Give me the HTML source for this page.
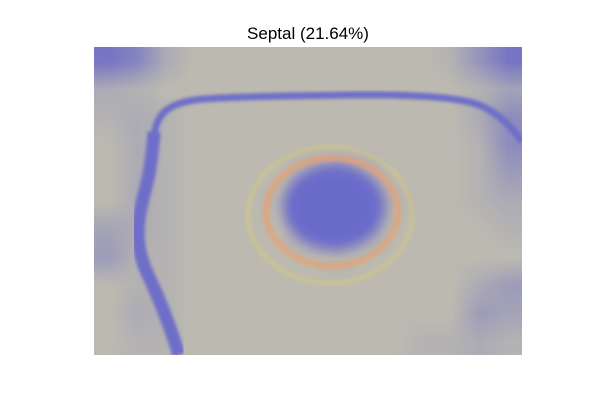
<!DOCTYPE html>
<html><head><meta charset="utf-8">
<style>
body{margin:0;background:#fff;}
#wrap{position:relative;width:600px;height:400px;overflow:hidden;font-family:"Liberation Sans",sans-serif;}
#title{position:absolute;top:24px;left:0;width:616px;text-align:center;font-size:17px;color:#000;}
#cv{position:absolute;left:94px;top:47px;}
#ov{position:absolute;left:94px;top:47px;}
</style></head>
<body>
<div id="wrap">
<div id="title">Septal (21.64%)</div>
<canvas id="cv" width="428" height="308"></canvas>
<svg id="ov" width="428" height="308">
<defs><filter id="bl"><feGaussianBlur stdDeviation="1.5"/></filter><filter id="bl2"><feGaussianBlur stdDeviation="6"/></filter></defs>
<path d="M60,95 C60,70 70,55 110,52 C150,49 200,49 250,48 C320,47 365,50 385,58 C405,66 418,80 428,95" fill="none" stroke="#6e6ec8" stroke-width="7" filter="url(#bl)"/>
<path d="M60,85 C58,110 56,125 52,140 C44,170 38,195 55,230 C68,258 78,285 85,308" fill="none" stroke="#6e6ec8" stroke-width="13" filter="url(#bl)"/>
<ellipse cx="240" cy="160" rx="50" ry="42" fill="#6a6acb" filter="url(#bl2)"/>
<ellipse cx="238" cy="165" rx="66" ry="54" fill="none" stroke="#e8a070" stroke-width="7" opacity="0.65" filter="url(#bl)"/>
<ellipse cx="236" cy="168" rx="82" ry="68" fill="none" stroke="#e0d070" stroke-width="5" opacity="0.35" filter="url(#bl)"/>
</svg>
</div>
<script>
var blueRows = [
[0.9,0.7,0.2,0,0,0,0,0,0,0,0,0,0.1,0.5,0.9],
[0.2,0.1,0,0,0,0,0,0,0,0,0,0,0,0.1,0.3],
[0.1,0.2,0.1,0,0,0,0,0,0,0,0,0,0,0.2,0.6],
[0,0.2,0.1,0,0,0,0,0,0,0,0,0,0,0.1,0.6],
[0,0.2,0.1,0,0,0,0,0.2,0.4,0.2,0,0,0,0.1,0.4],
[0,0.2,0.1,0,0,0,0.1,0.6,0.7,0.5,0.1,0,0,0.1,0.2],
[0.3,0.2,0.1,0,0,0,0,0.4,0.5,0.3,0,0,0,0,0.1],
[0.4,0.1,0.1,0,0,0,0,0,0.1,0,0,0,0,0,0],
[0,0.1,0.1,0,0,0,0,0,0,0,0,0,0,0.2,0.4],
[0,0.2,0.1,0,0,0,0,0,0,0,0,0,0,0.4,0.3],
[0,0.1,0.1,0,0,0,0,0,0,0,0,0.1,0.1,0.2,0.1]
];
var cv=document.getElementById('cv'),ctx=cv.getContext('2d');
var W=428,H=308,nc=blueRows[0].length,nr=blueRows.length;
var img=ctx.createImageData(W,H);
function g(r,c){r=Math.max(0,Math.min(nr-1,r));c=Math.max(0,Math.min(nc-1,c));return blueRows[r][c];}
for(var y=0;y<H;y++){for(var x=0;x<W;x++){
 var fx=x/W*nc-0.5,fy=y/H*nr-0.5,c0=Math.floor(fx),r0=Math.floor(fy),tx=fx-c0,ty=fy-r0;
 var v=(g(r0,c0)*(1-tx)+g(r0,c0+1)*tx)*(1-ty)+(g(r0+1,c0)*(1-tx)+g(r0+1,c0+1)*tx)*ty;
 var i=(y*W+x)*4;
 img.data[i]=188+(110-188)*v;img.data[i+1]=186+(110-186)*v;img.data[i+2]=176+(198-176)*v;img.data[i+3]=255;
}}
ctx.putImageData(img,0,0);
</script>
</body></html>
